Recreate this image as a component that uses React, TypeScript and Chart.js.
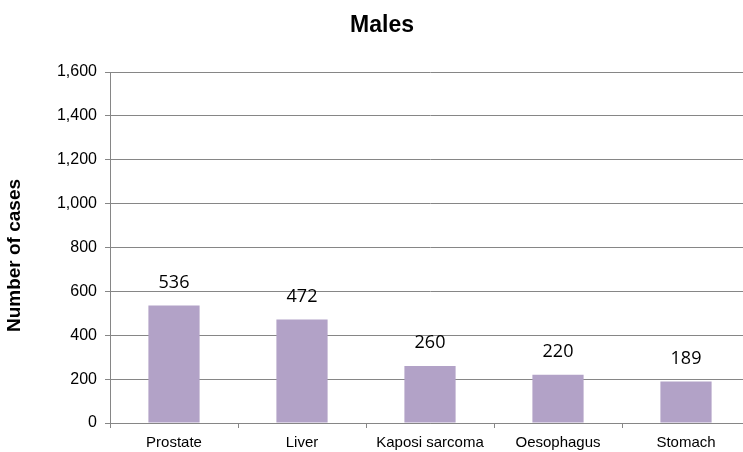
import React, { useEffect, useRef } from "react";
import { Chart, registerables } from "chart.js";

Chart.register(...registerables);

const categories = ["Prostate", "Liver", "Kaposi sarcoma", "Oesophagus", "Stomach"];
const cases = [536, 472, 260, 220, 189];
const yMin = 0;
const yMax = 1600;
const yStep = 200;
const chartTitle = "Males";
const yAxisTitle = "Number of cases";

const GRID = "#868686";
const BAR = "#B2A2C7";

const textPlugin = {
  id: "textPlugin",
  afterDatasetsDraw(chart: any) {
    const ctx = chart.ctx;
    const meta = chart.getDatasetMeta(0);
    ctx.save();
    ctx.font = '18px "Open Sans"';
    ctx.fillStyle = "#000";
    ctx.textAlign = "center";
    ctx.textBaseline = "middle";
    meta.data.forEach((bar: any, i: number) => {
      ctx.fillText(String(cases[i]), bar.x, bar.y - 23);
    });
    ctx.restore();
  },
  afterDraw(chart: any) {
    const ctx = chart.ctx;
    const area = chart.chartArea;
    ctx.save();
    ctx.fillStyle = "#000";
    ctx.textAlign = "center";
    ctx.textBaseline = "middle";
    ctx.font = 'bold 23px "Liberation Sans", Arial';
    ctx.fillText(chartTitle, 382, 26);
    ctx.translate(15, (area.top + area.bottom) / 2 + 8);
    ctx.rotate(-Math.PI / 2);
    ctx.font = 'bold 19px "Liberation Sans", Arial';
    ctx.fillText(yAxisTitle, 0, 0);
    ctx.restore();
  },
};

export default function App() {
  const ref = useRef<HTMLCanvasElement | null>(null);

  useEffect(() => {
    if (!ref.current) return;
    const chart = new Chart(ref.current, {
      type: "bar",
      data: {
        labels: categories,
        datasets: [
          {
            data: cases,
            backgroundColor: BAR,
            borderWidth: 0,
            barPercentage: 0.4,
            categoryPercentage: 1,
          },
        ],
      },
      plugins: [textPlugin],
      options: {
        responsive: false,
        animation: false,
        devicePixelRatio: 1,
        layout: { padding: { left: 0, right: 10, top: 72, bottom: 0 } },
        plugins: {
          legend: { display: false },
          tooltip: { enabled: false },
          title: { display: false },
        },
        scales: {
          x: {
            offset: true,
            grid: {
              display: true,
              offset: true,
              drawOnChartArea: false,
              drawTicks: true,
              tickLength: 5,
              color: GRID,
            },
            border: { display: true, color: GRID, width: 1 },
            ticks: {
              color: "#000",
              font: { family: "Liberation Sans, Arial", size: 15 },
              padding: 6,
              maxRotation: 0,
              autoSkip: false,
            },
            afterFit(scale: any) {
              scale.height = 29;
            },
          },
          y: {
            min: yMin,
            max: yMax,
            grid: {
              color: GRID,
              drawTicks: true,
              tickLength: 5,
            },
            border: { display: true, color: GRID, width: 1 },
            ticks: {
              stepSize: yStep,
              color: "#000",
              font: { family: "Liberation Sans, Arial", size: 16 },
              padding: 8,
              callback: (v: any) => Number(v).toLocaleString("en-US"),
            },
            afterFit(scale: any) {
              scale.width = 110;
            },
          },
        },
      },
    } as any);
    return () => chart.destroy();
  }, []);

  return (
    <div
      style={{
        position: "fixed",
        left: 0,
        top: 0,
        width: 743,
        height: 452,
        overflow: "hidden",
        background: "#fff",
      }}
    >
      <canvas ref={ref} width={760} height={452} style={{ display: "block" }} />
    </div>
  );
}
